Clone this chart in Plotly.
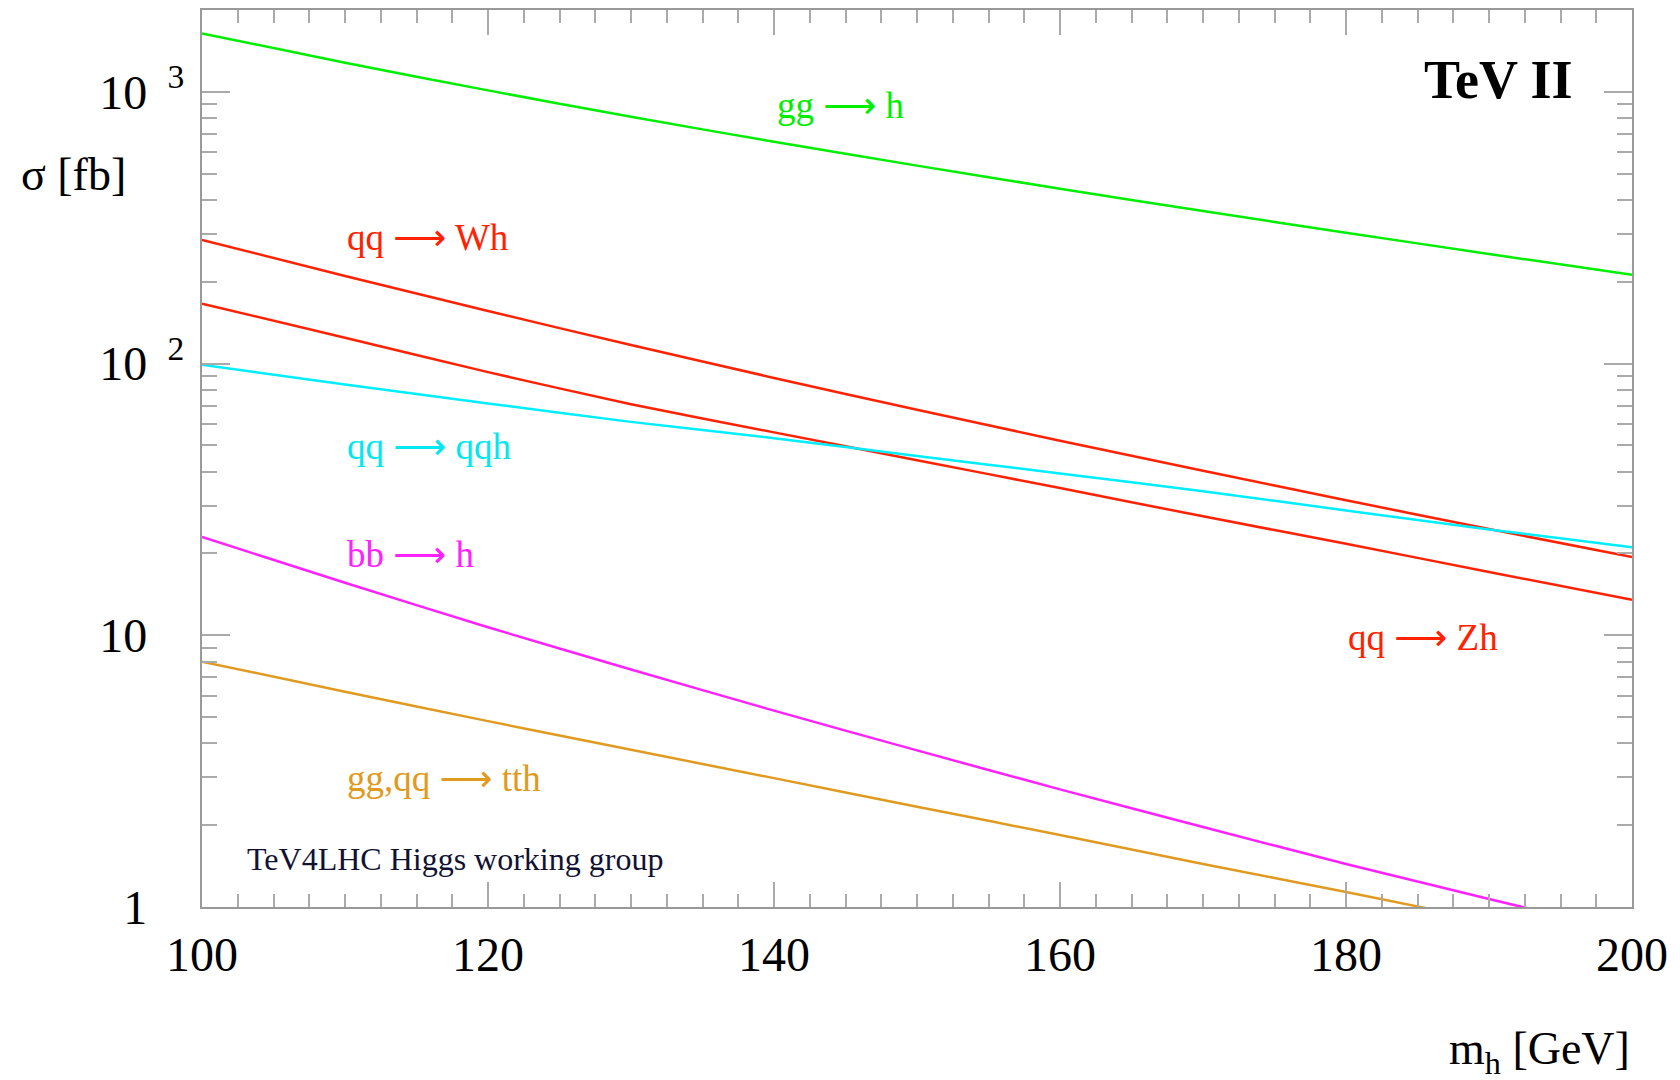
import numpy as np
import plotly.graph_objects as go

# ---- data ----
mh = [100, 110, 120, 130, 140, 150, 160, 170, 180, 190, 200]
sigma_gg_h = [1641, 1279, 1012, 809, 655, 535, 440, 364, 303, 253, 212]
sigma_wh = [285, 210, 156, 117, 88.5, 67.6, 52.0, 40.3, 31.4, 24.6, 19.4]
sigma_zh = [166, 124.5, 93, 70.8, 55.8, 44.1, 34.8, 27.4, 21.7, 17.1, 13.5]
sigma_qqh = [99, 83.7, 71.3, 61, 53.1, 45.7, 39.4, 33.9, 28.8, 24.5, 21.1]
sigma_bbh = [23.0, 15.6, 10.7, 7.48, 5.28, 3.77, 2.71, 1.97, 1.44, 1.07, 0.80]
sigma_tth = [8.0, 6.2, 4.83, 3.79, 2.98, 2.34, 1.84, 1.44, 1.135, 0.89, 0.70]

x_ticks = [100, 120, 140, 160, 180, 200]
y_ticks = [1, 10, 100, 1000]
y_ticktext = ["1", "10", "10 <sup> 2</sup>", "10 <sup> 3</sup>"]
y_minor = [v * d for d in (1, 10, 100, 1000) for v in range(2, 10) if v * d <= 2000]

ARROW = "<span style='font-family:DejaVu Sans'>⟶</span>"
labels = [
    ("gg " + ARROW + " h", 140.1, 892, "#00ee00"),
    ("qq " + ARROW + " Wh", 110.0, 292, "#ff2200"),
    ("qq " + ARROW + " qqh", 110.0, 49.6, "#00e8f0"),
    ("bb " + ARROW + " h", 110.0, 19.9, "#ff22ff"),
    ("gg,qq " + ARROW + " tth", 110.0, 2.97, "#e09a20"),
    ("qq " + ARROW + " Zh", 180.0, 9.8, "#ff2200"),
]

series = [
    (sigma_gg_h, "#00ee00"),
    (sigma_wh, "#ff2200"),
    (sigma_zh, "#ff2200"),
    (sigma_qqh, "#00eeff"),
    (sigma_bbh, "#ff22ff"),
    (sigma_tth, "#e09a20"),
]

FONT = "Liberation Serif"

fig = go.Figure()
for ys, col in series:
    fig.add_trace(go.Scatter(x=mh, y=ys, mode="lines",
                             line=dict(color=col, width=2.5, shape="spline", smoothing=0.6),
                             showlegend=False))

pad = "<span style='color:#ffffff'> <sup> 2</sup></span>"
y_ticktext = [t + pad if "sup" not in t else t for t in y_ticktext]

fig.update_layout(
    width=1680, height=1080,
    margin=dict(l=202, r=48, t=8, b=173),
    paper_bgcolor="white", plot_bgcolor="white",
    font=dict(family=FONT, color="black"),
    xaxis=dict(
        range=[100, 200], tickvals=x_ticks, ticks="inside", ticklen=25,
        tickwidth=2, tickcolor="#aaaaaa", showgrid=False, zeroline=False,
        showline=True, linecolor="#999999", linewidth=2, mirror="allticks",
        tickfont=dict(family=FONT, size=48, color="black"),
        ticklabelstandoff=4,
        minor=dict(dtick=2.5, tick0=100, ticks="inside", ticklen=13,
                   tickwidth=2, tickcolor="#aaaaaa", showgrid=False),
    ),
    yaxis=dict(
        type="log", range=[0, np.log10(2000)], tickvals=y_ticks,
        ticktext=y_ticktext, ticks="inside", ticklen=28, tickwidth=2,
        tickcolor="#aaaaaa", showgrid=False, zeroline=False,
        showline=True, linecolor="#999999", linewidth=2, mirror="allticks",
        tickfont=dict(family=FONT, size=48, color="black"),
        ticklabelstandoff=6,
        minor=dict(tickmode="array", tickvals=y_minor, ticks="inside",
                   ticklen=15, tickwidth=2, tickcolor="#aaaaaa", showgrid=False),
    ),
)

for text, x, y, col in labels:
    fig.add_annotation(x=x, y=np.log10(y), xref="x", yref="y", text=text,
                       showarrow=False, xanchor="left", yanchor="middle",
                       font=dict(family=FONT, size=37, color=col))

fig.add_annotation(x=196.0, y=np.log10(1102), xref="x", yref="y",
                   text="<b>TeV II</b>", showarrow=False, xanchor="right",
                   yanchor="middle", font=dict(family=FONT, size=54, color="black"))
fig.add_annotation(x=103.0, y=np.log10(1.50), xref="x", yref="y",
                   text="TeV4LHC Higgs working group", showarrow=False,
                   xanchor="left", yanchor="middle",
                   font=dict(family=FONT, size=32, color="#111133"))

fig.add_annotation(x=1.0, y=-0.162, xref="paper", yref="paper",
                   text="m<sub>h</sub> [GeV]", showarrow=False, xanchor="right",
                   yanchor="middle", font=dict(family=FONT, size=46, color="black"))
fig.add_annotation(x=-0.128, y=0.8165, xref="paper", yref="paper",
                   text="σ [fb]", showarrow=False, xanchor="left",
                   yanchor="middle", font=dict(family=FONT, size=46, color="black"))

fig.write_html("out.html")
